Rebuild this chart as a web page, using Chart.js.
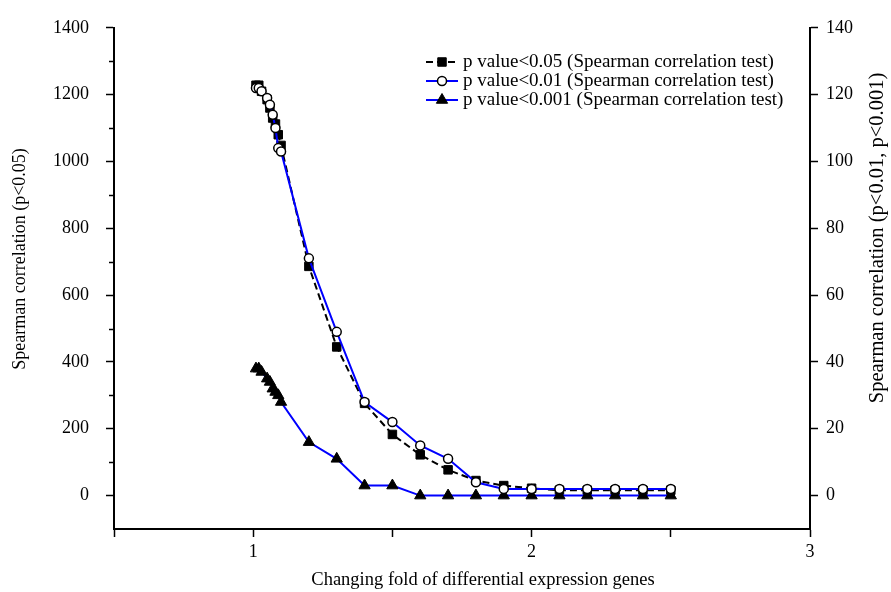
<!DOCTYPE html>
<html>
<head>
<meta charset="utf-8">
<script src="https://cdn.jsdelivr.net/npm/chart.js@4.4.1/dist/chart.umd.min.js"></script>
<style>
    body { margin: 0; background: #ffffff; }
    #grafico { display: block; }
</style>
</head>
<body>
<canvas id="grafico" width="891" height="592"></canvas>
<script>
/* Dados */
const foldChange = [1.01, 1.02, 1.03, 1.05, 1.06, 1.07, 1.08, 1.09, 1.1,
    1.2, 1.3, 1.4, 1.5, 1.6, 1.7, 1.8, 1.9, 2.0, 2.1, 2.2, 2.3, 2.4, 2.5];

// eixo esquerdo (p<0.05)
const pValue005 = [1228, 1228, 1210, 1185, 1160, 1130, 1112, 1080, 1048,
    686, 445, 276, 183, 122, 77, 45, 30, 22, 16, 16, 16, 16, 16];

// eixo direito (p<0.01 e p<0.001)
const pValue001 = [122, 122, 121, 119, 117, 114, 110, 104, 103,
    71, 49, 28, 22, 15, 11, 4, 2, 2, 2, 2, 2, 2, 2];
const pValue0001 = [38, 38, 37, 35, 34, 32, 31, 30, 28,
    16, 11, 3, 3, 0, 0, 0, 0, 0, 0, 0, 0, 0, 0];

const legendLabels = [
    'p value<0.05 (Spearman correlation test)',
    'p value<0.01 (Spearman correlation test)',
    'p value<0.001 (Spearman correlation test)'
];

const xTitle = 'Changing fold of differential expression genes';
const yLeftTitle = 'Spearman correlation (p<0.05)';
const yRightTitle = 'Spearman correlation (p<0.01, p<0.001)';

const fonte = 'Liberation Serif, Times New Roman, serif';

function pontos(valores) {
    return foldChange.map(function (x, i) {
        return { x: x, y: valores[i] };
    });
}

/* Escreve um texto (rodado ou não) centrado num ponto */
function escrever(ctx, texto, x, y, tamanho, angulo) {
    ctx.save();
    ctx.translate(x, y);
    ctx.rotate(angulo);
    ctx.fillStyle = '#000';
    ctx.font = tamanho + 'px ' + fonte;
    ctx.textAlign = 'center';
    ctx.textBaseline = 'middle';
    ctx.fillText(texto, 0, 0);
    ctx.restore();
}

/* Legenda dentro da área do gráfico, marcas curtas à esquerda e títulos dos eixos */
const extrasPlugin = {
    id: 'extras',
    afterDraw: function (chart) {
        const ctx = chart.ctx;
        const yEsq = chart.scales.y;
        const area = chart.chartArea;

        // marcas menores do eixo esquerdo
        ctx.save();
        ctx.strokeStyle = '#000';
        ctx.lineWidth = 1.5;
        for (let v = 100; v < 1400; v += 200) {
            const py = Math.round(yEsq.getPixelForValue(v)) + 0.5;
            ctx.beginPath();
            ctx.moveTo(area.left - 5, py);
            ctx.lineTo(area.left, py);
            ctx.stroke();
        }
        ctx.restore();

        // legenda
        [0, 1, 2].forEach(function (idx, linha) {
            const ds = chart.data.datasets[idx];
            const y = 62 + linha * 19;
            ctx.save();
            ctx.strokeStyle = ds.borderColor;
            ctx.lineWidth = ds.borderWidth;
            ctx.setLineDash(ds.borderDash || []);
            ctx.beginPath();
            ctx.moveTo(426, y);
            ctx.lineTo(458, y);
            ctx.stroke();
            ctx.setLineDash([]);
            ctx.fillStyle = ds.pointBackgroundColor;
            ctx.strokeStyle = ds.pointBorderColor;
            ctx.lineWidth = ds.pointBorderWidth;
            Chart.helpers.drawPoint(ctx, {
                pointStyle: ds.pointStyle,
                radius: ds.pointRadius,
                rotation: 0,
                borderWidth: ds.pointBorderWidth
            }, 442, y);
            ctx.fillStyle = '#000';
            ctx.font = '19px ' + fonte;
            ctx.textAlign = 'left';
            ctx.textBaseline = 'middle';
            ctx.fillText(legendLabels[idx], 463, y);
            ctx.restore();
        });

        // títulos dos eixos
        escrever(ctx, xTitle, 483, 580, 18.5, 0);
        escrever(ctx, yLeftTitle, 20, 259, 18, -Math.PI / 2);
        escrever(ctx, yRightTitle, 878, 238, 20.5, -Math.PI / 2);
    }
};

const eixoComum = {
    border: { color: '#000', width: 2 },
    grid: { drawOnChartArea: false, color: '#000', tickLength: 8, tickWidth: 1.5 }
};

new Chart(document.getElementById('grafico'), {
    type: 'scatter',
    data: {
        datasets: [{
            label: legendLabels[0],
            data: pontos(pValue005),
            yAxisID: 'y',
            showLine: true,
            borderColor: '#000',
            borderWidth: 2,
            borderDash: [7, 4],
            pointStyle: 'rect',
            pointRadius: 6,
            pointBackgroundColor: '#000',
            pointBorderColor: '#000',
            pointBorderWidth: 1,
            order: 3
        }, {
            label: legendLabels[1],
            data: pontos(pValue001),
            yAxisID: 'y2',
            showLine: true,
            borderColor: '#0000ff',
            borderWidth: 2,
            pointStyle: 'circle',
            pointRadius: 4.5,
            pointBackgroundColor: '#fff',
            pointBorderColor: '#000',
            pointBorderWidth: 1.5,
            order: 1
        }, {
            label: legendLabels[2],
            data: pontos(pValue0001),
            yAxisID: 'y2',
            showLine: true,
            borderColor: '#0000ff',
            borderWidth: 2,
            pointStyle: 'triangle',
            pointRadius: 6.5,
            pointBackgroundColor: '#000',
            pointBorderColor: '#000',
            pointBorderWidth: 1,
            order: 2
        }]
    },
    options: {
        responsive: false,
        animation: false,
        events: [],
        layout: { padding: { top: 14, right: 0, left: 0, bottom: 0 } },
        plugins: {
            legend: { display: false },
            tooltip: { enabled: false }
        },
        scales: {
            x: {
                type: 'linear',
                min: 0.5,
                max: 3,
                border: eixoComum.border,
                grid: eixoComum.grid,
                ticks: {
                    stepSize: 0.5,
                    autoSkip: false,
                    maxRotation: 0,
                    padding: 4,
                    color: '#000',
                    font: { family: fonte, size: 18 },
                    callback: function (v) {
                        return Number.isInteger(v) ? String(v) : '';
                    }
                },
                afterFit: function (scale) { scale.height = 63; }
            },
            y: {
                position: 'left',
                min: -100,
                max: 1400,
                border: eixoComum.border,
                grid: eixoComum.grid,
                ticks: {
                    stepSize: 200,
                    padding: 17,
                    color: '#000',
                    font: { family: fonte, size: 18 },
                    callback: function (v) {
                        return v < 0 ? null : String(v);
                    }
                },
                afterFit: function (scale) { scale.width = 114; }
            },
            y2: {
                position: 'right',
                min: -10,
                max: 140,
                border: eixoComum.border,
                grid: eixoComum.grid,
                ticks: {
                    stepSize: 20,
                    padding: 8,
                    color: '#000',
                    font: { family: fonte, size: 18 },
                    callback: function (v) {
                        return v < 0 ? null : String(v);
                    }
                },
                afterFit: function (scale) { scale.width = 81; }
            }
        }
    },
    plugins: [extrasPlugin]
});
</script>
</body>
</html>
